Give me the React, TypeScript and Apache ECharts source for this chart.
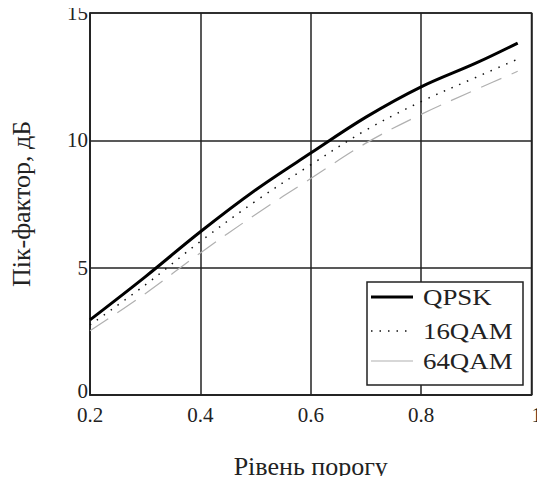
import React, { useEffect, useRef } from "react";
import * as echarts from "echarts";

const thresholds = [0.2, 0.3, 0.4, 0.5, 0.6, 0.7, 0.8, 0.9, 0.975];
const qpsk = [2.95, 4.64, 6.41, 8.05, 9.5, 10.91, 12.1, 13.04, 13.82];
const qam16 = [2.75, 4.32, 6.03, 7.61, 9.04, 10.4, 11.52, 12.48, 13.19];
const qam64 = [2.52, 3.98, 5.58, 7.09, 8.5, 9.89, 11.02, 12.0, 12.71];
const seriesNames = ["QPSK", "16QAM", "64QAM"];
const xTitle = "Рівень порогу";
const yTitle = "Пік-фактор, дБ";

const FONT = '"Liberation Serif"';
const INK = "#222";

const lineStyles = [
  { stroke: "#000", lineWidth: 3 },
  { stroke: "#111", lineWidth: 1.5, lineDash: [1.5, 7] },
  { stroke: "#b0b0b0", lineWidth: 1.2, lineDash: [22, 11] },
];

export default function App() {
  const ref = useRef<HTMLDivElement>(null);
  useEffect(() => {
    if (!ref.current) return;
    const chart = echarts.init(ref.current, undefined, { renderer: "svg" });
    const pairs = (ys: number[]) => thresholds.map((x, i) => [x, ys[i]]);
    const legendX = 367;
    const legendY = 282;
    const rowYs = [297, 331, 361];
    const legendGraphics: any[] = [
      {
        type: "rect",
        shape: { x: legendX, y: legendY, width: 156, height: 103 },
        style: { fill: "#fff", stroke: INK, lineWidth: 1.5 },
        z: 10,
      },
    ];
    seriesNames.forEach((name, i) => {
      legendGraphics.push({
        type: "line",
        shape: { x1: 371, y1: rowYs[i], x2: 413, y2: rowYs[i] },
        style: { ...lineStyles[i], lineDash: i === 2 ? null : lineStyles[i].lineDash },
        z: 11,
      });
      legendGraphics.push({
        type: "text",
        x: 423,
        y: rowYs[i],
        scaleX: 1.12,
        style: {
          text: name,
          font: `24px ${FONT}`,
          fill: INK,
          verticalAlign: "middle",
          align: "left",
        },
        z: 11,
      });
    });
    chart.setOption({
      animation: false,
      backgroundColor: "#fff",
      textStyle: { fontFamily: FONT, color: INK },
      grid: {
        left: 89,
        top: 13,
        right: 7,
        bottom: 86,
        show: true,
        borderColor: INK,
        borderWidth: 1.5,
      },
      graphic: legendGraphics,
      xAxis: {
        type: "value",
        min: 0.2,
        max: 1,
        interval: 0.2,
        name: xTitle,
        nameLocation: "middle",
        nameGap: 58,
        nameTextStyle: { fontFamily: FONT, fontSize: 26, color: INK },
        axisLine: { show: true, lineStyle: { color: INK, width: 1.5 } },
        axisTick: { show: false },
        axisLabel: {
          fontFamily: FONT,
          fontSize: 21,
          lineHeight: 16,
          color: INK,
          margin: 12,
          alignMaxLabel: "left",
          formatter: (v: number) => (Math.abs(v - 1) < 1e-9 ? "1" : v.toFixed(1)),
        },
        splitLine: { show: true, lineStyle: { color: INK, width: 1.5 } },
      },
      yAxis: {
        type: "value",
        min: 0,
        max: 15,
        interval: 5,
        name: yTitle,
        nameLocation: "middle",
        nameGap: 56,
        nameRotate: 90,
        nameTextStyle: { fontFamily: FONT, fontSize: 26, color: INK },
        axisLine: { show: true, lineStyle: { color: INK, width: 1.5 } },
        axisTick: { show: false },
        axisLabel: {
          fontFamily: FONT,
          fontSize: 21,
          lineHeight: 16,
          color: INK,
          margin: 2,
          formatter: (v: number) => (v === 0 ? "{z|0}" : String(v)),
          rich: {
            z: { fontFamily: FONT, fontSize: 21, lineHeight: 16, color: INK, padding: [0, 0, 9, 0] },
          },
        },
        splitLine: { show: true, lineStyle: { color: INK, width: 1.5 } },
      },
      series: seriesNames.map((name, i) => ({
        name,
        type: "line",
        data: pairs([qpsk, qam16, qam64][i]),
        smooth: 0.35,
        showSymbol: false,
        symbol: "none",
        color: lineStyles[i].stroke,
        lineStyle: {
          color: lineStyles[i].stroke,
          width: lineStyles[i].lineWidth,
          type: lineStyles[i].lineDash ? lineStyles[i].lineDash : "solid",
        },
        z: 5 - i,
      })),
    });
    return () => chart.dispose();
  }, []);
  return <div ref={ref} style={{ width: 545, height: 484, margin: -8 }} />;
}
